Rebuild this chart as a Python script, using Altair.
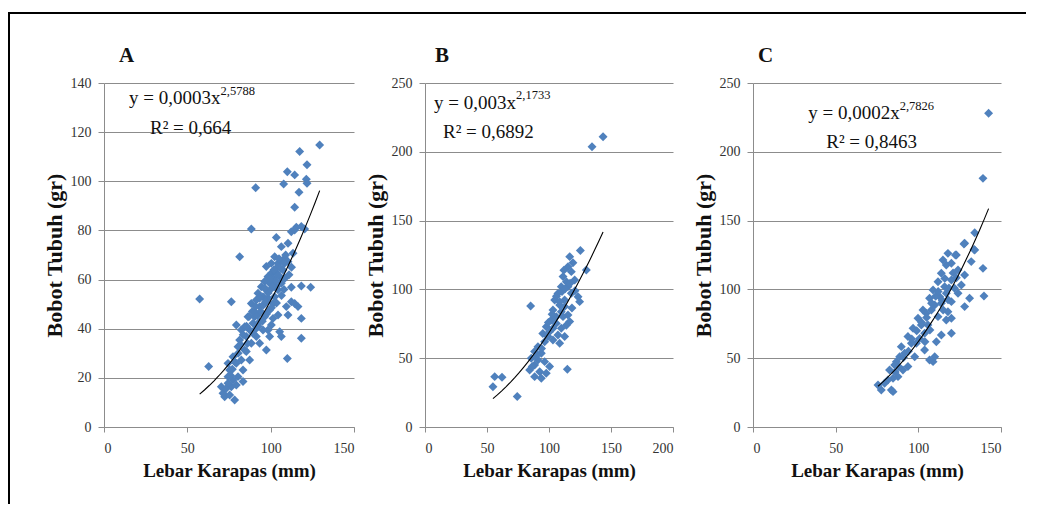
import altair as alt
import pandas as pd

# ---------------- data ----------------
A_X = [129.4, 117.4, 121.8, 110.0, 114.4, 121.4, 121.8, 107.8, 91.0, 117.0, 114.4, 88.4, 112.4, 115.4, 118.4,
       120.4, 103.4, 106.4, 81.4, 113.4, 102.4, 108.4, 97.4, 104.4, 100.4, 107.4, 112.4, 118.4, 124.0, 57.4,
       76.4, 112.4, 116.4, 118.4, 118.4, 110.0, 62.8, 105.4, 106.4, 99.4, 97.4, 104.4, 79.4, 83.4, 78.4,
       71.4, 70.4, 76.4, 74.4,
       74.4, 77.4, 80.4, 75.4, 79.4, 82.4, 84.4, 81.4, 85.4, 87.4, 89.4, 86.4, 90.4, 93.4, 91.4, 95.4, 97.4,
       94.4, 99.4, 101.4, 98.4, 103.4, 96.4, 92.4, 88.4, 90.4, 93.4, 96.4, 99.4, 101.4, 102.4, 104.4, 106.4,
       100.4, 95.4, 91.4, 88.4, 85.4, 87.4, 83.4, 80.4, 77.4, 74.4, 79.4, 72.4, 75.4, 90.4, 93.4, 98.4, 101.4,
       108.4, 105.4, 110.4, 110.4, 114.4, 96.4, 98.4, 82.4, 84.4, 109.4, 110.4, 114.4, 103.4, 103.4, 100.4,
       92.0, 94.0, 95.5, 97.0, 98.5, 100.0, 101.5, 103.0, 104.5, 106.0, 107.5, 109.0, 105.0, 102.0, 99.0,
       96.5, 93.5, 91.0, 89.0, 87.0, 85.5, 83.5, 82.0, 80.5, 78.5, 77.0, 76.0, 73.0, 86.0, 89.5, 92.5,
       95.0, 97.5, 100.5, 103.5, 106.5, 108.0, 111.0, 112.5, 108.5]
A_Y = [114.8, 112.1, 106.7, 103.9, 102.6, 100.8, 99.2, 98.9, 97.4, 95.5, 89.4, 80.6, 79.5, 81.3, 81.6,
       80.6, 77.1, 73.4, 69.3, 70.7, 69.3, 68.7, 65.3, 66.6, 62.6, 63.9, 56.9, 57.4, 56.9, 52.1,
       51.0, 51.0, 49.0, 44.2, 36.1, 27.9, 24.6, 38.8, 36.8, 36.8, 31.3, 45.6, 41.5, 18.5, 11.0,
       13.7, 16.4, 16.4, 20.5,
       25.9, 28.6, 32.7, 23.2, 25.9, 27.3, 31.3, 35.4, 36.8, 39.5, 42.2, 44.9, 46.9, 49.0, 51.7, 53.0, 55.8,
       57.1, 58.5, 60.5, 61.2, 62.6, 59.2, 54.4, 50.3, 44.9, 42.9, 44.9, 47.6, 50.3, 53.0, 55.8, 58.5,
       41.5, 39.5, 36.8, 34.1, 30.7, 27.3, 23.2, 20.5, 19.1, 17.8, 17.1, 12.3, 13.0, 39.5, 34.1, 39.5, 44.2,
       66.6, 61.2, 67.3, 74.8, 80.2, 50.3, 52.4, 39.5, 40.8, 49.0, 45.6, 50.3, 57.1, 64.6, 66.6,
       45.5, 47.0, 49.5, 51.0, 54.5, 56.0, 57.5, 59.5, 62.0, 64.5, 67.0, 70.0, 68.5, 64.0, 60.0,
       56.5, 52.5, 49.0, 47.0, 45.0, 41.0, 37.5, 33.5, 30.0, 26.5, 23.5, 21.0, 15.5, 34.0, 38.0, 41.0,
       43.0, 46.0, 48.5, 50.5, 53.5, 56.0, 62.0, 65.0, 60.5]

B_X = [125.3, 116.7, 119.3, 115.3, 130.1, 118.0, 111.3, 114.0, 109.9, 107.2, 123.4, 124.7, 85.2, 104.6,
       108.6, 103.2, 115.3, 111.3, 101.9, 116.7, 105.9, 97.8, 109.9, 100.5, 107.2, 112.6, 103.2, 96.5,
       108.6, 91.1, 88.4, 93.8, 85.7, 91.1, 96.5, 88.4, 100.5, 84.4, 92.5, 97.8, 88.4, 93.8, 114.8, 56.2,
       62.1, 54.8, 74.4, 134.7, 143.6, 112.6, 118.0, 115.3, 105.9, 99.2, 103.2, 109.9, 120.7, 112.6,
       106.0, 110.5, 113.0, 117.0, 112.0, 108.5, 102.5, 99.5, 95.0, 94.0, 90.0, 86.5, 118.5, 121.0, 114.0]
B_Y = [128.2, 123.8, 119.4, 116.5, 114.1, 112.9, 109.3, 105.6, 102.0, 97.1, 94.7, 91.1, 87.9, 92.3,
       88.7, 85.0, 81.4, 80.2, 77.8, 76.6, 75.3, 72.9, 71.7, 69.3, 66.9, 65.7, 63.2, 62.0,
       60.8, 58.4, 54.8, 53.6, 49.9, 48.7, 47.5, 45.1, 43.9, 41.4, 40.2, 39.0, 36.6, 35.4, 41.9, 36.6,
       36.1, 29.3, 22.1, 203.7, 211.0, 87.5, 97.2, 102.0, 80.2, 65.7, 71.7, 83.8, 106.8, 92.3,
       95.0, 98.5, 100.5, 104.5, 114.0, 91.0, 82.0, 76.0, 68.0, 57.0, 52.0, 44.0, 86.5, 99.0, 74.0]

C_X = [134.1, 128.0, 134.1, 123.0, 132.0, 139.1, 116.9, 124.0, 113.9, 120.0, 111.9, 126.0, 108.9, 116.9,
       131.0, 139.7, 106.8, 128.0, 113.9, 102.8, 117.9, 111.9, 99.8, 105.8, 120.0, 113.9, 96.8, 93.7,
       110.9, 98.8, 89.7, 103.8, 106.8, 97.8, 86.7, 93.7, 82.6, 87.7, 75.6, 83.7, 79.6, 109.9, 108.9,
       121.9, 115.9, 112.9, 109.9, 104.8, 107.9, 101.8, 103.8, 100.8, 95.8, 91.7, 88.7, 85.7, 90.7, 84.7,
       81.6, 77.6, 120.0, 114.9, 117.9, 124.0, 128.0, 120.0, 116.9, 120.0, 142.5, 139.1, 127.6, 133.7,
       122.4, 84.7,
       110.5, 112.0, 114.5, 116.0, 118.5, 108.0, 105.0, 102.0, 99.0, 96.0, 94.0, 91.0, 88.0, 86.0, 118.0,
       121.0, 123.0, 115.0, 107.0, 104.0]
C_Y = [141.2, 133.5, 128.6, 125.0, 120.2, 115.3, 117.7, 114.1, 111.7, 106.8, 105.6, 103.2, 99.6, 97.2,
       93.5, 95.2, 93.5, 87.5, 89.9, 85.0, 83.8, 80.2, 79.0, 74.1, 68.1, 66.9, 71.7, 65.7,
       62.0, 60.8, 58.4, 56.0, 48.7, 51.1, 47.5, 43.9, 41.4, 36.6, 30.5, 26.9, 31.8, 51.1, 47.5,
       100.8, 102.0, 94.7, 88.7, 82.6, 85.0, 74.1, 68.1, 64.4, 60.8, 53.6, 51.1, 45.1, 41.4, 35.4,
       34.2, 26.9, 119.0, 121.4, 126.2, 97.2, 110.5, 91.1, 77.8, 79.0, 228.0, 180.7, 133.0, 129.0,
       125.0, 25.7,
       95.0, 98.5, 92.0, 108.0, 101.0, 90.0, 79.5, 76.0, 70.0, 64.0, 55.0, 50.5, 44.0, 40.0, 92.5,
       112.0, 108.5, 85.0, 70.5, 62.0]

LETTERS = ["A", "B", "C"]
EQ_MAIN = ["y = 0,0003x", "y = 0,003x", "y = 0,0002x"]
EQ_SUP = ["2,5788", "2,1733", "2,7826"]
EQ_R2 = ["R\u00b2 = 0,664", "R\u00b2 = 0,6892", "R\u00b2 = 0,8463"]
X_TITLE = "Lebar Karapas (mm)"
Y_TITLE = "Bobot Tubuh (gr)"

FONT = "Liberation Serif"
BLUE = "#4F81BD"
GRID = "#8C8C8C"


def text_layer(s, xv, yv, size, align):
    return alt.Chart(pd.DataFrame({"t": [s]})).mark_text(
        font=FONT, fontSize=size, align=align, baseline="middle", color="#111111"
    ).encode(text="t:N", x=alt.datum(xv), y=alt.datum(yv))


def panel(i, xs, ys, xmax, ymax, xstep, ystep, width, letter_dx, main_pos, junc_x, sup_y, r2_pos, border=False):
    df = pd.DataFrame({"x": xs, "y": ys})
    xsc = alt.Scale(domain=[0, xmax], nice=False, zero=True)
    ysc = alt.Scale(domain=[0, ymax], nice=False, zero=True)
    xax = alt.Axis(values=list(range(0, xmax + 1, xstep)), title=X_TITLE, grid=False)
    yax = alt.Axis(values=list(range(0, ymax + 1, ystep)), title=Y_TITLE, grid=True)
    base = alt.Chart(df)
    pts = base.mark_point(shape="diamond", filled=True, size=80, color=BLUE, opacity=1).encode(
        x=alt.X("x:Q", scale=xsc, axis=xax),
        y=alt.Y("y:Q", scale=ysc, axis=yax),
    )
    trend = base.transform_regression("x", "y", method="pow").mark_line(
        color="black", strokeWidth=1.1
    ).encode(x="x:Q", y="y:Q")
    letter = alt.Chart(pd.DataFrame({"t": [LETTERS[i]]})).mark_text(
        font=FONT, fontSize=21, fontWeight="bold", align="left", baseline="alphabetic", color="#111111"
    ).encode(text="t:N", x=alt.value(letter_dx), y=alt.value(-21))
    layers = [pts, trend,
              text_layer(EQ_MAIN[i], junc_x, main_pos, 19, "right"),
              text_layer(EQ_SUP[i], junc_x, sup_y, 12.5, "left"),
              text_layer(EQ_R2[i], r2_pos[0], r2_pos[1], 19, "left"),
              letter]
    if border:
        one = pd.DataFrame({"d": [0]})
        layers.append(alt.Chart(one).mark_rule(color="black", strokeWidth=2).encode(
            x=alt.value(-95), x2=alt.value(922), y=alt.value(-70)))
        layers.append(alt.Chart(one).mark_rule(color="black", strokeWidth=2).encode(
            x=alt.value(-95), y=alt.value(-71), y2=alt.value(421)))
    return alt.layer(*layers).properties(width=width, height=344)


pA = panel(0, A_X, A_Y, 150, 140, 50, 20, 250, 15, 133.8, 69.9, 136.9, (27.6, 121.8), border=True)
pB = panel(1, B_X, B_Y, 200, 250, 50, 50, 248, 10, 235.2, 73.4, 241.3, (14.5, 214.4))
pC = panel(2, C_X, C_Y, 150, 250, 50, 50, 248, 5, 228.0, 88.7, 233.3, (44.3, 207.3))

inner = alt.hconcat(pB, pC, spacing=80, bounds="flush")
chart = alt.hconcat(pA, inner, spacing=71, bounds="flush").properties(
    padding={"top": 3, "left": 0, "right": 0, "bottom": 0},
    background="white",
).configure_view(stroke=None).configure_axis(
    labelFont=FONT, labelFontSize=14, labelColor="#333333",
    titleFont=FONT, titleFontWeight="bold", titleColor="#111111",
    domainColor=GRID, tickColor=GRID, gridColor=GRID, gridWidth=1, domainWidth=1,
).configure_axisX(
    tickSize=5, labelPadding=9, titleFontSize=19, titlePadding=6,
).configure_axisY(
    tickSize=6, labelPadding=7, titleFontSize=22, titlePadding=4,
)

chart.save("out.html", embed_options={"renderer": "svg", "actions": False})
